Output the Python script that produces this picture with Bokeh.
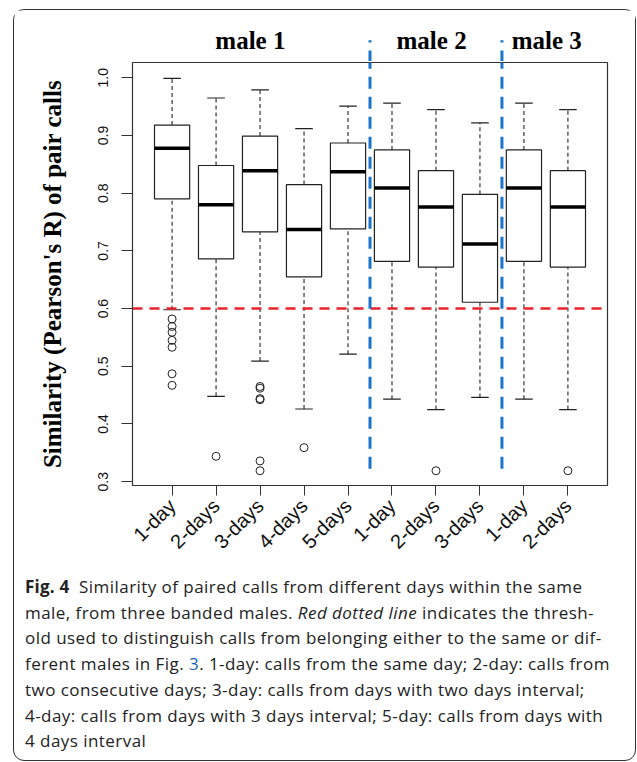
import math
import numpy as np
from bokeh.plotting import figure
from bokeh.models import Range1d, FixedTicker, Div, ColumnDataSource, NumeralTickFormatter, Spacer
from bokeh.layouts import column, row
from bokeh.core.properties import value
from bokeh.embed import file_html
from bokeh.resources import INLINE

# ---------------- data ----------------
categories = ["1-day", "2-days", "3-days", "4-days", "5-days",
              "1-day", "2-days", "3-days", "1-day", "2-days"]
groups = ["male 1", "male 2", "male 3"]
group_sizes = [5, 3, 2]
group_label_x = [2.78, 6.9, 9.52]

lower_whisker = [0.598, 0.448, 0.509, 0.426, 0.521, 0.443, 0.425, 0.446, 0.443, 0.425]
q1 = [0.790, 0.686, 0.733, 0.655, 0.738, 0.682, 0.672, 0.611, 0.682, 0.672]
median = [0.878, 0.780, 0.839, 0.737, 0.837, 0.809, 0.776, 0.712, 0.809, 0.776]
q3 = [0.918, 0.848, 0.899, 0.815, 0.887, 0.875, 0.839, 0.798, 0.875, 0.839]
upper_whisker = [0.999, 0.965, 0.979, 0.912, 0.951, 0.956, 0.945, 0.922, 0.956, 0.945]

outlier_box = [1, 1, 1, 1, 1, 1, 1, 2, 3, 3, 3, 3, 3, 3, 4, 7, 10]
outlier_value = [0.582, 0.569, 0.559, 0.545, 0.533, 0.487, 0.467,
                 0.344,
                 0.465, 0.462, 0.444, 0.442, 0.336, 0.319,
                 0.359, 0.319, 0.319]

threshold = 0.6
y_ticks = [0.3, 0.4, 0.5, 0.6, 0.7, 0.8, 0.9, 1.0]
y_title = "Similarity (Pearson's R) of pair calls"

# ---------------- layout constants ----------------
pos = np.arange(1, len(categories) + 1)
box_left, box_right = 0.1, 10.9
box_bottom, box_top = 0.2934, 1.0265
PX_PER_UNIT_Y = 577.0
sep_bottom, sep_top = 0.3224, 1.065

x_range = Range1d(box_left, box_right)
FIG_W = 621
ML, MR = 118, 28
TOP_H = 51

# ---------------- top strip (group labels, separator tops) ----------------
top = figure(width=FIG_W, height=TOP_H, x_range=x_range,
             y_range=Range1d(box_top + 1 / PX_PER_UNIT_Y, box_top + (TOP_H + 1) / PX_PER_UNIT_Y),
             output_backend="svg", toolbar_location=None,
             x_axis_location=None, y_axis_location=None,
             min_border_left=ML, min_border_right=MR, min_border_top=0, min_border_bottom=0)
top.outline_line_color = None
top.xgrid.visible = False
top.ygrid.visible = False
top.border_fill_color = "white"

bounds = list(np.cumsum(group_sizes)[:-1] + 0.5)
top.segment(x0=bounds, y0=[box_top] * len(bounds), x1=bounds, y1=[sep_top] * len(bounds),
            line_color="#1874CD", line_width=3, line_dash="12 8")
top.text(x=group_label_x, y=[1.064] * 3, text=groups, text_align="center", text_baseline="middle",
         text_font=value("Liberation Serif"), text_font_style="bold", text_font_size="25px",
         text_color="black")

# ---------------- main plot ----------------
p = figure(width=FIG_W, height=504, x_range=x_range, y_range=Range1d(box_bottom, box_top),
           output_backend="svg", toolbar_location=None,
           min_border_left=ML, min_border_right=MR, min_border_top=1, min_border_bottom=80)
p.outline_line_color = "#333333"
p.outline_line_width = 1.2
p.xgrid.visible = False
p.ygrid.visible = False
p.background_fill_color = "white"
p.border_fill_color = "white"

src = ColumnDataSource(dict(x=pos, lw=lower_whisker, q1=q1, med=median, q3=q3, uw=upper_whisker,
                            xl=pos - 0.4, xr=pos + 0.4, cl=pos - 0.2, cr=pos + 0.2))

# whiskers
p.segment(x0="x", y0="q3", x1="x", y1="uw", source=src, line_color="#222222", line_width=1.1, line_dash="4 3")
p.segment(x0="x", y0="lw", x1="x", y1="q1", source=src, line_color="#222222", line_width=1.1, line_dash="4 3")
p.segment(x0="cl", y0="uw", x1="cr", y1="uw", source=src, line_color="#222222", line_width=1.2)
p.segment(x0="cl", y0="lw", x1="cr", y1="lw", source=src, line_color="#222222", line_width=1.2)
# boxes
p.quad(left="xl", right="xr", bottom="q1", top="q3", source=src,
       fill_color="white", line_color="#222222", line_width=1.2)
p.segment(x0="xl", y0="med", x1="xr", y1="med", source=src, line_color="black", line_width=3.5)
# outliers
p.scatter(x=outlier_box, y=outlier_value, marker="circle", size=8,
          fill_color=None, line_color="#222222", line_width=1)

# threshold
p.segment(x0=[box_left], y0=[threshold], x1=[box_right], y1=[threshold],
          line_color="#e8232a", line_width=2.5, line_dash="10 7")

# group separators
p.segment(x0=bounds, y0=[sep_bottom] * len(bounds), x1=bounds, y1=[box_top] * len(bounds),
          line_color="#1874CD", line_width=3, line_dash="12 8")

# axes
p.yaxis.ticker = FixedTicker(ticks=y_ticks)
p.yaxis.formatter = NumeralTickFormatter(format="0.0")
p.yaxis.axis_line_color = None
p.yaxis.major_tick_out = 11
p.yaxis.major_tick_in = 0
p.yaxis.minor_tick_line_color = None
p.yaxis.major_tick_line_color = "#333333"
p.yaxis.major_label_orientation = "vertical"
p.yaxis.major_label_text_font = "Liberation Sans"
p.yaxis.major_label_text_font_size = "14px"
p.yaxis.major_label_text_color = "#111111"
p.yaxis.major_label_standoff = 13
p.yaxis.axis_label = y_title
p.yaxis.axis_label_text_font = "Liberation Serif"
p.yaxis.axis_label_text_font_style = "bold"
p.yaxis.axis_label_text_font_size = "25px"
p.yaxis.axis_label_text_color = "black"
p.yaxis.axis_label_standoff = 30

p.xaxis.ticker = FixedTicker(ticks=list(pos))
p.xaxis.major_label_overrides = {int(i): c for i, c in zip(pos, categories)}
p.xaxis.axis_line_color = None
p.xaxis.major_tick_out = 10
p.xaxis.major_tick_in = 0
p.xaxis.minor_tick_line_color = None
p.xaxis.major_tick_line_color = "#333333"
p.xaxis.major_label_orientation = math.pi / 4
p.xaxis.major_label_text_font = "Liberation Sans"
p.xaxis.major_label_text_font_size = "20px"
p.xaxis.major_label_text_color = "#111111"
p.xaxis.major_label_standoff = 7

caption = (
    "<div style=\"font-family:'Open Sans';font-size:17px;line-height:25.7px;color:#222;"
    "letter-spacing:0.45px;padding:9px 0 0 11px;white-space:nowrap\">"
    "<b style='letter-spacing:0.2px'>Fig. 4</b>&nbsp; Similarity of paired calls from different days within the same<br>"
    "male, from three banded males. <i>Red dotted line</i> indicates the thresh-<br>"
    "old used to distinguish calls from belonging either to the same or dif-<br>"
    "ferent males in Fig. <span style='color:#1a5fb4'>3</span>. 1-day: calls from the same day; 2-day: calls from<br>"
    "two consecutive days; 3-day: calls from days with two days interval;<br>"
    "4-day: calls from days with 3 days interval; 5-day: calls from days with<br>"
    "4 days interval</div>"
)
div = Div(text=caption, width=FIG_W, height=195, margin=0)

boxed = column(top, p, div, spacing=0,
               styles={"border": "1px solid #333", "border-radius": "11px", "background": "white"})
layout = column(Spacer(width=10, height=9, margin=0),
                row(Spacer(width=13, height=10, margin=0), boxed, spacing=0),
                spacing=0)

open("out.html", "w").write(file_html(layout, INLINE))
